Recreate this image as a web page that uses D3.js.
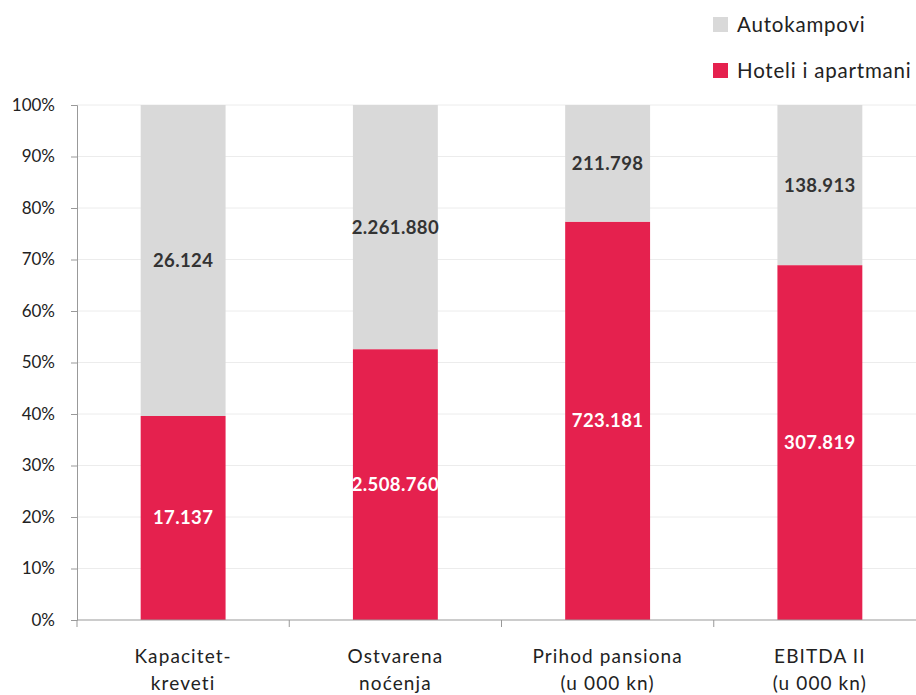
<!DOCTYPE html>
<html><head><meta charset="utf-8">
<script src="https://cdn.jsdelivr.net/npm/d3@7"></script>
<style>body{margin:0;background:#fff;}svg{display:block;font-family:Lato,"Open Sans",sans-serif;}</style>
</head><body><div id="chart"></div>
<script>
const categories = [["Kapacitet-","kreveti"],["Ostvarena","noćenja"],["Prihod pansiona","(u 000 kn)"],["EBITDA II","(u 000 kn)"]];
const hoteli = [17137, 2508760, 723181, 307819];
const autokampovi = [26124, 2261880, 211798, 138913];
const yTicks = [0,0.1,0.2,0.3,0.4,0.5,0.6,0.7,0.8,0.9,1.0];
const seriesNames = ["Hoteli i apartmani","Autokampovi"];
const colors = ["#E5214E","#D9D9D9"];

const W=916,H=695;
const svg=d3.select("#chart").append("svg").attr("width",W).attr("height",H);
const x=d3.scaleBand().domain(d3.range(categories.length)).range([77,926]).paddingInner(0.6).paddingOuter(0.3);
const y=d3.scaleLinear().domain([0,1]).range([620,105]);
const fmt=v=>d3.format(",")(v).replace(/,/g,".");

// grid
svg.append("g").selectAll("line").data(yTicks.slice(1)).join("line")
 .attr("x1",77).attr("x2",916).attr("y1",d=>y(d)).attr("y2",d=>y(d))
 .attr("stroke","#ececec").attr("stroke-width",1);

// bars
const data=categories.map((c,i)=>{const t=hoteli[i]+autokampovi[i];return {i,h:hoteli[i]/t,a:autokampovi[i]/t,hv:hoteli[i],av:autokampovi[i]};});
const g=svg.append("g");
g.selectAll("rect.h").data(data).join("rect").attr("class","h")
 .attr("x",d=>x(d.i)).attr("width",x.bandwidth()).attr("y",d=>y(d.h)).attr("height",d=>y(0)-y(d.h)).attr("fill",colors[0]);
g.selectAll("rect.a").data(data).join("rect").attr("class","a")
 .attr("x",d=>x(d.i)).attr("width",x.bandwidth()).attr("y",d=>y(1)).attr("height",d=>y(d.h)-y(1)).attr("fill",colors[1]);
g.selectAll("text.hl").data(data).join("text").attr("class","hl")
 .attr("x",d=>x(d.i)+x.bandwidth()/2).attr("y",d=>y(d.h/2)).attr("dy","0.35em")
 .attr("text-anchor","middle").attr("fill","#fff").attr("font-weight","bold").attr("font-size",18.5).attr("letter-spacing",0.4).text(d=>fmt(d.hv));
g.selectAll("text.al").data(data).join("text").attr("class","al")
 .attr("x",d=>x(d.i)+x.bandwidth()/2).attr("y",d=>y(d.h+d.a/2)).attr("dy","0.35em")
 .attr("text-anchor","middle").attr("fill","#333").attr("font-weight","bold").attr("font-size",18.5).attr("letter-spacing",0.4).text(d=>fmt(d.av));

// y axis
const ya=svg.append("g").attr("transform","translate(77,0)")
 .call(d3.axisLeft(y).tickValues(yTicks).tickFormat(d3.format(".0%")).tickSizeOuter(0).tickSize(6).tickPadding(16));
ya.select(".domain").attr("stroke","#999");
ya.selectAll(".tick line").attr("stroke","#999");
ya.selectAll("text").attr("font-size",17).attr("fill","#222").attr("font-family","Lato,sans-serif");

// x axis
const xa=svg.append("g").attr("transform","translate(0,620)");
xa.append("line").attr("x1",77).attr("x2",916).attr("stroke","#999");
const bStep=x.step();
xa.selectAll("line.t").data(d3.range(categories.length)).join("line").attr("class","t")
 .attr("x1",d=>x(d)+x.bandwidth()/2-bStep/2).attr("x2",d=>x(d)+x.bandwidth()/2-bStep/2).attr("y1",0).attr("y2",7).attr("stroke","#999");
const xl=xa.selectAll("text").data(categories).join("text")
 .attr("x",(d,i)=>x(i)+x.bandwidth()/2).attr("text-anchor","middle").attr("font-size",19).attr("letter-spacing",1.1).attr("fill","#222");
xl.selectAll("tspan").data(d=>d).join("tspan").attr("x",function(){return this.parentNode.getAttribute("x");})
 .attr("y",(d,j)=>43+j*27).text(d=>d);

// legend
const leg=svg.append("g");
const legItems=[{n:seriesNames[1],c:colors[1],y:25},{n:seriesNames[0],c:colors[0],y:71}];
leg.selectAll("rect").data(legItems).join("rect").attr("x",713).attr("y",d=>d.y-8).attr("width",15).attr("height",15).attr("fill",d=>d.c);
leg.selectAll("text").data(legItems).join("text").attr("x",737).attr("y",d=>d.y).attr("dy","0.35em")
 .attr("font-size",20.5).attr("letter-spacing",0.8).attr("fill","#222").text(d=>d.n);
</script></body></html>
